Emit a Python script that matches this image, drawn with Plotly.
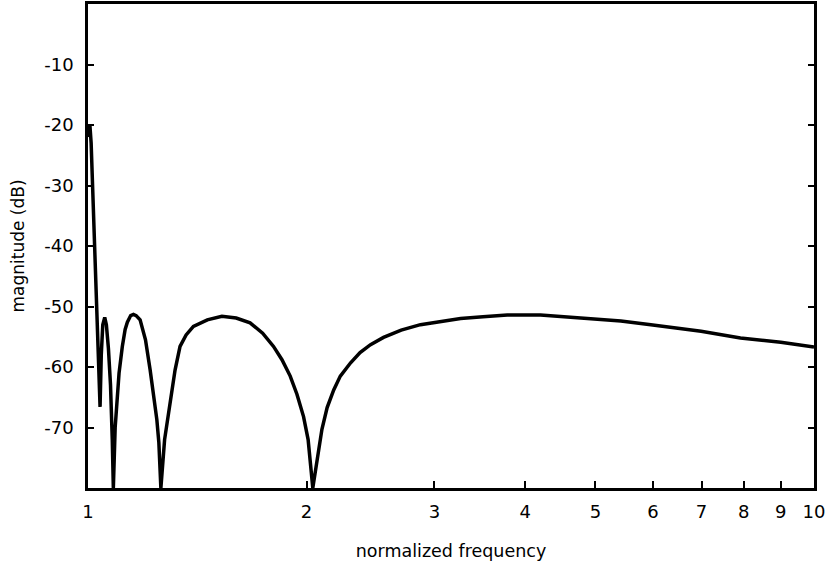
import plotly.graph_objects as go

# normalized frequency and magnitude (dB)
freq = [1.0, 1.003, 1.006, 1.010, 1.015, 1.020, 1.025, 1.030, 1.035, 1.039,
        1.043, 1.048, 1.0545, 1.060, 1.067, 1.074, 1.080, 1.0837,
        1.090, 1.097, 1.1035, 1.115, 1.125, 1.133, 1.145, 1.155, 1.165, 1.1797, 1.200, 1.2176,
        1.232, 1.244, 1.252, 1.26,
        1.275, 1.2977, 1.318, 1.339, 1.365, 1.397, 1.46, 1.529, 1.600, 1.672, 1.740, 1.801,
        1.85, 1.899, 1.94, 1.981, 2.01, 2.04,
        2.075, 2.10, 2.135, 2.18, 2.226, 2.30, 2.37, 2.45, 2.553, 2.70, 2.87, 3.05, 3.26,
        3.5, 3.78, 4.2, 4.82, 5.42, 5.96, 6.99, 7.92, 9.0, 10.0]
mag_db = [-22, -20.5, -20, -23, -30, -37, -44, -52, -60, -66.6,
          -58, -53, -51.8, -53, -57, -63, -72, -80,
          -70, -64, -61, -56.6, -53.8, -52.6, -51.5, -51.3, -51.5, -52.2, -55.5, -60.4,
          -64.5, -68.7, -72.5, -80,
          -72, -65.9, -60.5, -56.6, -54.7, -53.3, -52.2, -51.6, -51.9, -52.7, -54.4, -56.6,
          -58.8, -61.5, -64.5, -68.2, -72, -80,
          -74, -70.3, -66.7, -63.8, -61.5, -59.3, -57.6, -56.3, -55.1, -53.9, -53.0, -52.5, -52.0,
          -51.7, -51.4, -51.4, -51.9, -52.4, -53.0, -54.1, -55.2, -55.9, -56.7]

x_ticks = [1, 2, 3, 4, 5, 6, 7, 8, 9, 10]
x_tick_labels = ["1", "2", "3", "4", "5", "6", "7", "8", "9", "10"]
y_ticks = [-70, -60, -50, -40, -30, -20, -10]
y_tick_labels = ["-70", "-60", "-50", "-40", "-30", "-20", "-10"]

fig = go.Figure()
fig.add_trace(go.Scatter(x=freq, y=mag_db, mode="lines",
                         line=dict(color="black", width=3.5), showlegend=False))

font = dict(family="DejaVu Sans, Liberation Sans, sans-serif", color="black")

fig.update_layout(
    width=825, height=566,
    margin=dict(l=88, r=11, t=4, b=78),
    paper_bgcolor="white", plot_bgcolor="white",
    font=dict(**font, size=18),
    xaxis=dict(type="log", range=[0, 1], tickvals=x_ticks, ticktext=x_tick_labels,
               ticks="inside", ticklen=7, tickwidth=2, tickcolor="black",
               showline=True, linewidth=2.5, linecolor="black", mirror=True,
               showgrid=False, zeroline=False, ticklabelstandoff=6, automargin=False,
               ticklabeloverflow="allow",
               tickfont=dict(**font, size=18),
               title=dict(text="normalized frequency", font=dict(**font, size=17.5), standoff=24)),
    yaxis=dict(range=[-80, 0], tickvals=y_ticks, ticktext=y_tick_labels,
               ticks="inside", ticklen=6, tickwidth=2, tickcolor="black",
               showline=True, linewidth=2.5, linecolor="black", mirror="allticks",
               showgrid=False, zeroline=False, ticklabelstandoff=8, automargin=False,
               tickfont=dict(**font, size=18),
               title=dict(text="magnitude (dB)", font=dict(**font, size=17), standoff=16)),
)

fig.write_html("out.html", config={"displayModeBar": False},
               post_script="document.body.style.margin='0';")
